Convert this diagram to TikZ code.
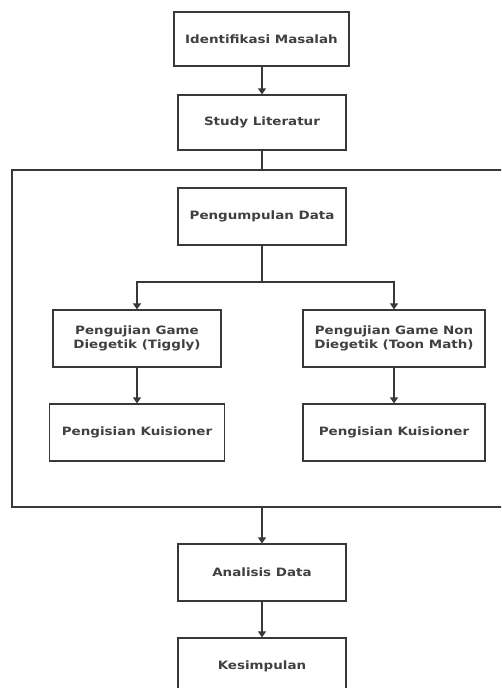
\documentclass[tikz,border=0pt]{standalone}
\usepackage{fontspec}
\setmainfont{DejaVu Sans}[FakeStretch=1.17]
\usetikzlibrary{arrows.meta}
\tikzset{
  box/.style={draw=black!78, line width=1.2pt, minimum height=57pt, align=center,
    inner sep=2pt, font=\fontsize{11.5}{13.5}\selectfont\bfseries, text=black!75},
  conn/.style={draw=black!78, line width=1.2pt},
  arr/.style={conn, -{Triangle[width=8pt,length=6pt]}},
}
\begin{document}
\begin{tikzpicture}[x=1pt,y=-1pt]
\useasboundingbox (0,0) rectangle (501,688);
\fill[white] (0,0) rectangle (501,688);
\clip (0,0) rectangle (501,688);
\node[draw=black!78, line width=1.2pt, minimum width=508pt, minimum height=337pt, inner sep=0pt] (cont) at (266,338.5) {};
\node[box, minimum width=175pt, minimum height=54pt] (idm) at (261.5,39) {Identifikasi Masalah};
\node[box, minimum width=168pt, minimum height=55pt] (study) at (262,122.5) {Study Literatur};
\node[box, minimum width=168pt] (peng) at (262,216.5) {Pengumpulan Data};
\node[box, minimum width=168pt] (tl) at (137,338.5) {Pengujian Game\\Diegetik (Tiggly)};
\node[box, minimum width=182pt] (tr) at (394,338.5) {Pengujian Game Non\\Diegetik (Toon Math)};
\node[box, minimum width=175pt] (kl) at (137,432.5) {Pengisian Kuisioner};
\node[box, minimum width=182pt] (kr) at (394,432.5) {Pengisian Kuisioner};
\node[box, minimum width=168pt] (ana) at (262,572.5) {Analisis Data};
\node[box, minimum width=168pt] (kes) at (262,666.5) {Kesimpulan};
\coordinate (br) at (262,282);
\draw[arr] (idm.south -| study.north) -- (study.north);
\draw[conn] (study.south) -- (study.south |- cont.north);
\draw[conn] (peng.south) -- (br);
\draw[arr] (br) -| (tl.north);
\draw[arr] (br) -| (tr.north);
\draw[arr] (tl.south) -- (kl.north);
\draw[arr] (tr.south) -- (kr.north);
\draw[arr] (ana.north |- cont.south) -- (ana.north);
\draw[arr] (ana.south) -- (kes.north);
\end{tikzpicture}
\end{document}
